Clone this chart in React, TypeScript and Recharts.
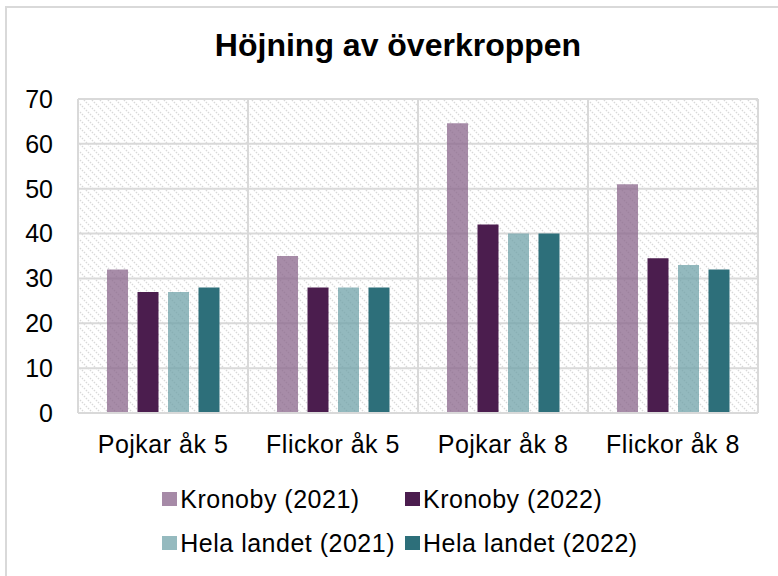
import React from 'react';
import { BarChart, Bar, XAxis, YAxis, CartesianGrid, Legend } from 'recharts';

const categories = ['Pojkar åk 5', 'Flickor åk 5', 'Pojkar åk 8', 'Flickor åk 8'];
const kronoby2021 = [32, 35, 64.6, 51];
const kronoby2022 = [27, 28, 42, 34.5];
const helaLandet2021 = [27, 28, 40, 33];
const helaLandet2022 = [28, 28, 40, 32];
const yTicks = [0, 10, 20, 30, 40, 50, 60, 70];
const seriesNames = ['Kronoby (2021)', 'Kronoby (2022)', 'Hela landet (2021)', 'Hela landet (2022)'];
const seriesKeys = ['k21', 'k22', 'h21', 'h22'];
const barFills = ['#8a668b', '#4b1d4e', '#6fa2a8', '#2d6f7a'];
const barOpacity = [0.75, 1, 0.75, 1];
const swatchColors = ['#a68aa7', '#4b1d4e', '#95babf', '#2d6f7a'];
const title = 'Höjning av överkroppen';

const data = categories.map((c, i) => ({
  name: c,
  k21: kronoby2021[i],
  k22: kronoby2022[i],
  h21: helaLandet2021[i],
  h22: helaLandet2022[i],
}));

const FONT = '"Liberation Sans", Arial, sans-serif';

const renderLegend = (props: any) => {
  const payload = [...(props.payload || [])].sort(
    (a: any, b: any) => seriesKeys.indexOf(a.dataKey) - seriesKeys.indexOf(b.dataKey)
  );
  return (
    <div
      style={{
        width: 778,
        paddingLeft: 22,
        boxSizing: 'border-box',
        display: 'flex',
        justifyContent: 'center',
        fontFamily: FONT,
      }}
    >
      <div style={{ display: 'grid', gridTemplateColumns: 'auto auto', columnGap: 10 }}>
        {payload.map((p: any, i: number) => (
          <div key={i} style={{ display: 'flex', alignItems: 'center', height: 44 }}>
            <span
              style={{
                display: 'inline-block',
                width: 15,
                height: 14,
                marginRight: 3,
                background: swatchColors[seriesKeys.indexOf(p.dataKey)],
              }}
            />
            <span style={{ fontSize: 25, letterSpacing: '0.5px', color: '#000', lineHeight: '44px' }}>
              {p.value}
            </span>
          </div>
        ))}
      </div>
    </div>
  );
};

export default function App() {
  return (
    <div
      style={{
        position: 'absolute',
        left: 0,
        top: 0,
        width: 778,
        height: 576,
        overflow: 'hidden',
        background: '#fff',
        fontFamily: FONT,
      }}
    >
      <svg width={0} height={0} style={{ position: 'absolute' }}>
        <defs>
          <pattern id="hatch" patternUnits="userSpaceOnUse" width={8} height={8}>
            <rect x={0} y={0} width={8} height={8} fill="#fff" />
            <path
              d="M-2,-2 L10,10 M-2,6 L2,10 M6,-2 L10,2"
              stroke="#d8d8d8"
              strokeWidth={1.3}
              strokeDasharray="1.5 1.3"
            />
          </pattern>
        </defs>
      </svg>
      <div
        style={{
          position: 'absolute',
          left: 5,
          top: 6,
          width: 900,
          height: 700,
          border: '2px solid #d9d9d9',
          boxSizing: 'border-box',
        }}
      />
      <div
        style={{
          position: 'absolute',
          left: 0,
          top: 29,
          width: 796,
          textAlign: 'center',
          fontSize: 32,
          lineHeight: '32px',
          fontWeight: 'bold',
          color: '#000',
        }}
      >
        {title}
      </div>
      <div style={{ position: 'absolute', left: 0, top: 0 }}>
        <BarChart
          width={778}
          height={576}
          data={data}
          margin={{ top: 99, right: 20, bottom: 35, left: 0 }}
          barSize={21}
          barGap={9.5}
        >
          <CartesianGrid
            stroke="#d9d9d9"
            strokeWidth={2}
            fill="url(#hatch)"
            verticalCoordinatesGenerator={({ offset }: any) =>
              Array.from({ length: categories.length + 1 }, (_, i) => offset.left + (i * offset.width) / categories.length)
            }
          />
          <XAxis
            dataKey="name"
            tickLine={false}
            tickSize={0}
            tickMargin={22}
            height={40}
            axisLine={{ stroke: '#d9d9d9', strokeWidth: 2 }}
            tick={{ fill: '#000', fontSize: 25, fontFamily: FONT, style: { letterSpacing: '0.5px' } }}
          />
          <YAxis
            domain={[0, 70]}
            ticks={yTicks}
            width={78}
            tickLine={false}
            axisLine={false}
            tickSize={0}
            tickMargin={25}
            tick={{ fill: '#000', fontSize: 25, fontFamily: FONT }}
          />
          <Legend
            verticalAlign="bottom"
            content={renderLegend}
            wrapperStyle={{ position: 'absolute', top: 477, left: 0, width: 778, height: 88 }}
          />
          {seriesKeys.map((k, i) => (
            <Bar
              key={k}
              dataKey={k}
              name={seriesNames[i]}
              fill={barFills[i]}
              fillOpacity={barOpacity[i]}
              isAnimationActive={false}
            />
          ))}
        </BarChart>
      </div>
    </div>
  );
}
